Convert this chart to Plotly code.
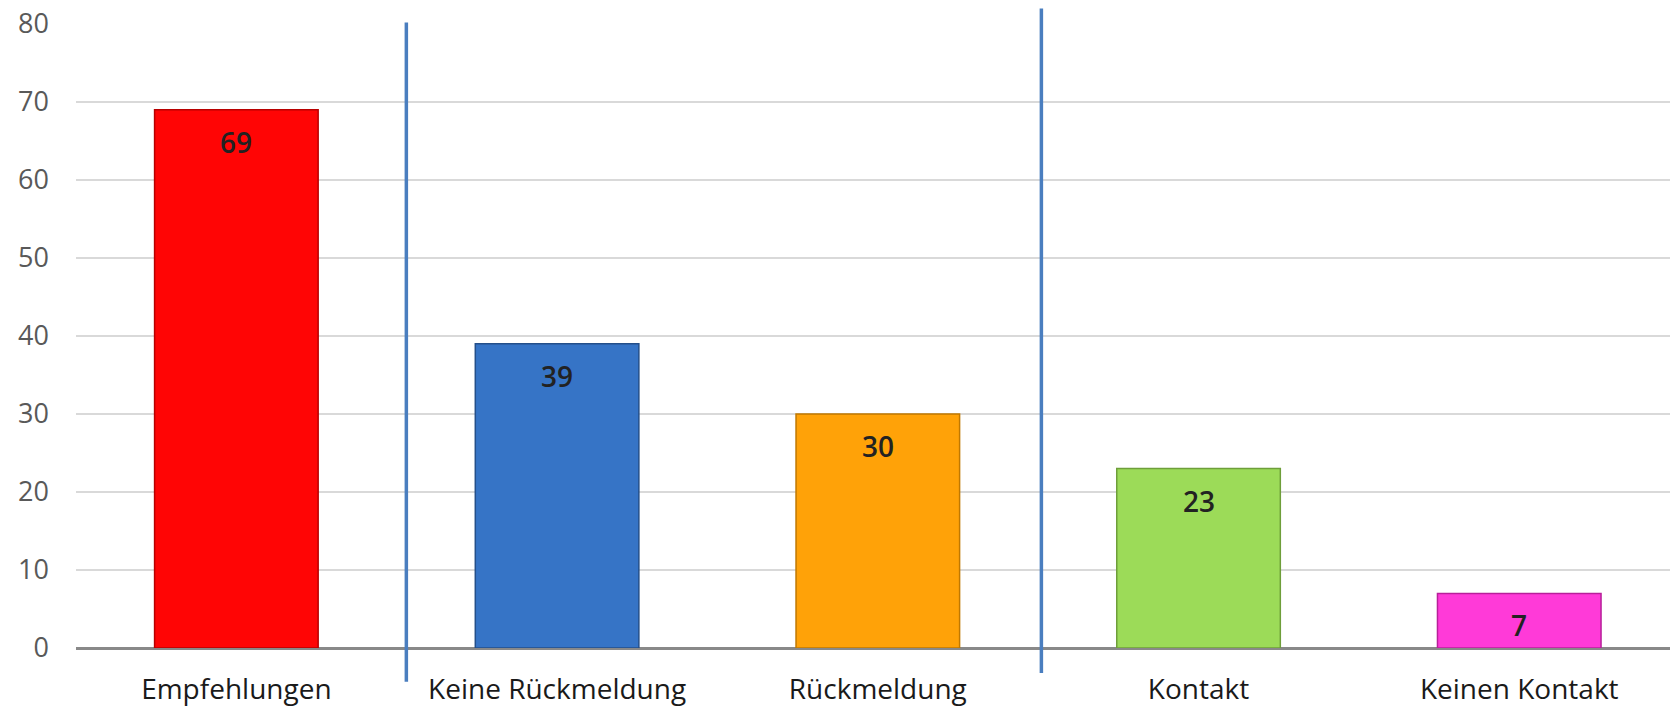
import plotly.graph_objects as go

# Chart data
categories = ["Empfehlungen", "Keine Rückmeldung", "Rückmeldung", "Kontakt", "Keinen Kontakt"]
values = [69, 39, 30, 23, 7]
bar_colors = ["#FF0505", "#3674C6", "#FFA208", "#9CDB58", "#FF3AD8"]
edge_colors = ["#B80000", "#244F8A", "#C07800", "#6E9E3A", "#B8209A"]
y_ticks = [0, 10, 20, 30, 40, 50, 60, 70, 80]

fig = go.Figure()

fig.add_trace(go.Bar(
    x=categories,
    y=values,
    width=0.51,
    marker=dict(color=bar_colors, line=dict(color=edge_colors, width=1.5)),
    hoverinfo="skip",
))

# Value labels placed just inside the top of each bar
for cat, val in zip(categories, values):
    fig.add_annotation(
        x=cat, y=val, text=str(val), showarrow=False,
        yanchor="middle", yshift=-32,
        font=dict(family="Open Sans", size=28, color="#222222", weight=600),
    )

# Group separators
for xpos, y_top, y_bot in [(0.53, 1.0025, -0.054), (2.51, 1.0250, -0.040)]:
    fig.add_shape(
        type="line", xref="x", yref="paper",
        x0=xpos, x1=xpos, y0=y_bot, y1=y_top,
        line=dict(color="#4A7EBF", width=3.5),
    )

fig.update_layout(
    width=1670, height=707,
    margin=dict(l=76, r=0, t=24, b=59),
    paper_bgcolor="white",
    plot_bgcolor="white",
    showlegend=False,
    bargap=0.49,
)

fig.update_xaxes(
    range=[-0.5, 4.47],
    showgrid=False,
    showline=False,
    ticks="",
    tickfont=dict(family="Open Sans", size=28, color="#1A1A1A"),
    ticklabelstandoff=22,
)

fig.update_yaxes(
    range=[0, 80],
    tickvals=y_ticks,
    showgrid=True,
    gridcolor="#D9D9D9",
    gridwidth=1.5,
    zeroline=True,
    zerolinecolor="#898989",
    zerolinewidth=3,
    showline=False,
    ticks="",
    tickfont=dict(family="Open Sans", size=27, color="#595959"),
    ticklabelstandoff=26,
)

fig.write_html("out.html")
